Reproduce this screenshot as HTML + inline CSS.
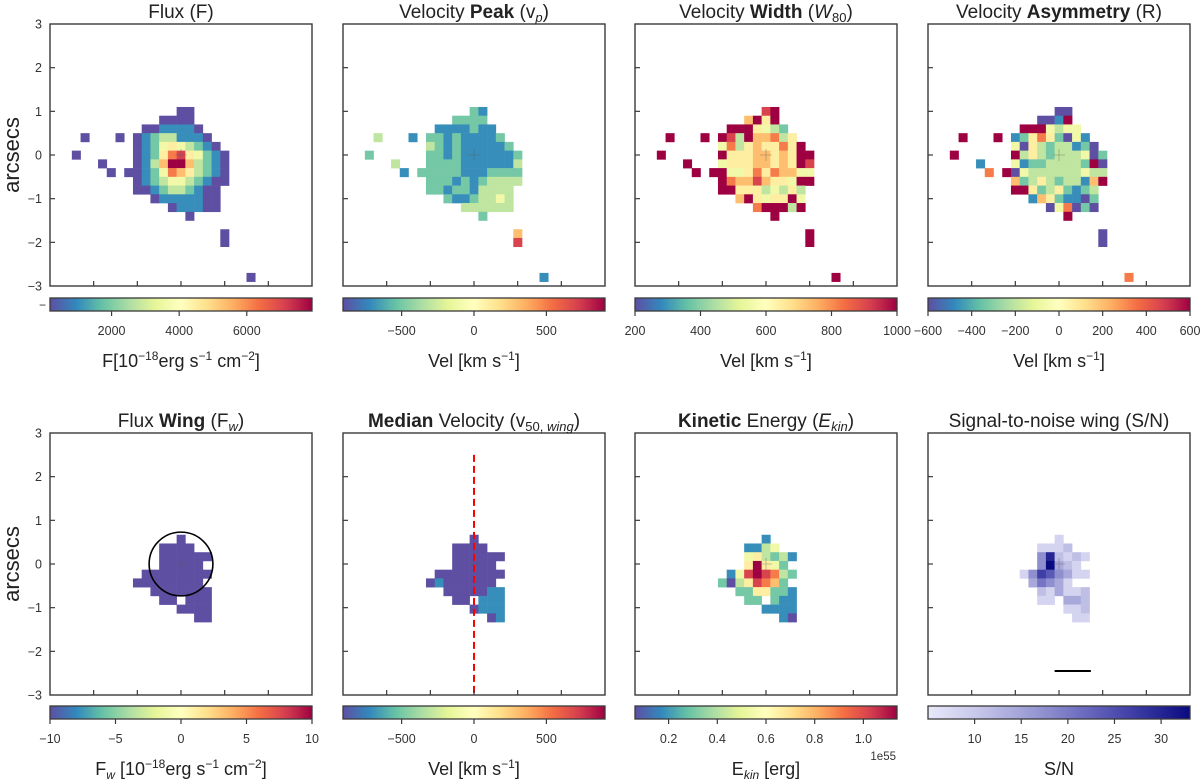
<!DOCTYPE html>
<html><head><meta charset="utf-8"><title>Outflow maps</title>
<style>
html,body{margin:0;padding:0;background:#fff;}
svg{display:block;font-family:"Liberation Sans",Arial,sans-serif;}
</style></head>
<body>
<svg id="fig" width="1200" height="781" viewBox="0 0 1200 781" xmlns="http://www.w3.org/2000/svg">
<defs id="defs"></defs>
<g id="root"></g>
</svg>
<script>
// ---------- data ----------
const fluxMap = [
"............00.......",
"..........0000.......",
"........0011110......",
".0...0.012331110.....",
".......0124543210....",
"0......01257854210...",
"...0...01369963210...",
"....0.001247653210...",
".......01234432100...",
".......0012332100....",
".........01111100....",
"...........011100....",
".............0.......",
".....................",
".................0...",
".................0...",
".....................",
".....................",
".....................",
"....................0"];
const vpeakMap = [
"............21.......",
"..........2222.......",
"........1111211......",
".3...1.221211112.....",
".......3212111112....",
"2......22121111112...",
"...3...22221111113...",
"....1.222221112222...",
".......22212123333...",
".......2212213333....",
".........21123343....",
"...........333333....",
".............2.......",
".....................",
".................6...",
".................8...",
".....................",
".....................",
".....................",
"....................1"];
const widthMap = [
"............89.......",
"..........6959.......",
"........9995432......",
".9...9.983966735.....",
".......4735655759....",
"9......95556656599...",
"...9...45556656598...",
"....9.994457576644...",
".......97668655499...",
".......9955534353....",
".........69545594....",
"...........799939....",
".............9.......",
".....................",
".................9...",
".................9...",
".....................",
".....................",
".....................",
"....................9"];
const asymMap = [
"............00.......",
"..........0019.......",
"........9994344......",
".9...9.125752041.....",
".......4053233120....",
"9......93532333402...",
"...1...41223333290...",
"....7.904333333433...",
".......62353233169...",
".......9952352123....",
".........16521102....",
"...........047020....",
".............9.......",
".....................",
".................0...",
".................0...",
".....................",
".....................",
".....................",
"....................7"];
const fwingMap = [
".....0...",
"...0000..",
"...000000",
"...00000.",
".00000000",
"00000000.",
"..0000000",
"...00.000",
".....0000",
".......00"];
const medianMap = [
".....0...",
"...0000..",
"...000000",
"...00000.",
".00000000",
"01000000.",
"..0000011",
"...00.111",
".....0111",
".......01"];
const ekinMap = [
".....1...",
"...1134..",
"...453231",
"...59542.",
".14898732",
"20358762.",
"..2255221",
"...22.211",
".....1111",
".......10"];
const snMap = [
".....1...",
"...1112..",
"...482121",
"...49321.",
".14764311",
"..35431..",
"...213112",
"...11.332",
"......112",
".......11"];

const fluxTicks = [2000, 4000, 6000];
const fluxRange = [178, 7930];
const vpeakTicks = [-500, 0, 500];
const vpeakRange = [-905, 905];
const widthTicks = [200, 400, 600, 800, 1000];
const widthRange = [200, 1000];
const asymTicks = [-600, -400, -200, 0, 200, 400, 600];
const asymRange = [-600, 600];
const fwTicks = [-10, -5, 0, 5, 10];
const fwRange = [-10, 10];
const medTicks = [-500, 0, 500];
const medRange = [-905, 905];
const ekinTicks = [0.2, 0.4, 0.6, 0.8, 1.0];
const ekinTickLabels = ["0.2", "0.4", "0.6", "0.8", "1.0"];
const ekinRange = [0.062, 1.138];
const snTicks = [10, 15, 20, 25, 30];
const snRange = [5.0, 33.1];
const axisTicks = [-3, -2, -1, 0, 1, 2, 3];

// ---------- colormaps ----------
const spectralStops = ["#5e4fa2","#3288bd","#66c2a5","#abdda4","#e6f598","#ffffbf","#fee08b","#fdae61","#f46d43","#d53e4f","#9e0142"];
const purpleStops = ["#e8e8fa","#c4c4e8","#9a9ad4","#6a6abf","#3a3aa3","#0a0a80"];
function hex2rgb(h){return [parseInt(h.substr(1,2),16),parseInt(h.substr(3,2),16),parseInt(h.substr(5,2),16)];}
function cmap(stops,f){
  f=Math.max(0,Math.min(1,f));
  const n=stops.length-1, p=f*n, i=Math.min(n-1,Math.floor(p)), t=p-i;
  const a=hex2rgb(stops[i]), b=hex2rgb(stops[i+1]);
  return "rgb("+a.map((v,k)=>Math.round(v+(b[k]-v)*t)).join(",")+")";
}

// ---------- layout ----------
const NS="http://www.w3.org/2000/svg";
const root=document.getElementById("root");
const defs=document.getElementById("defs");
const lefts=[50,343,635,928];
const SIZE=262;
const rowTop=[24,433];
const cbarTop=[298,706];
const S=SIZE/6;
function el(tag,attrs,parent){const e=document.createElementNS(NS,tag);for(const k in attrs)e.setAttribute(k,attrs[k]);(parent||root).appendChild(e);return e;}

function makeGradient(id,stops){
  const g=el("linearGradient",{id:id,x1:"0",y1:"0",x2:"1",y2:"0"},defs);
  for(let i=0;i<=40;i++){el("stop",{offset:(i/40),"stop-color":cmap(stops,i/40)},g);}
}
makeGradient("gSpec",spectralStops);
makeGradient("gPurp",purpleStops);

function panel(opts){
  const L=lefts[opts.col], T=rowTop[opts.row];
  const g=el("g",{});
  
  
  const xs=v=>L+(v+3)*S, ys=v=>T+(3-v)*S;
  const cg=el("g",{},g);
  
  
  opts.map.forEach((row,ri)=>{
    const r=opts.rTop-ri;
    for(let ci=0;ci<row.length;ci++){
      const ch=row[ci]; if(ch===".")continue;
      const c=opts.cLeft+ci;
      const cx=c*0.2, cy=r*0.2+opts.oy;
      const rc=el("rect",{x:xs(cx-0.1),y:ys(cy+0.1),width:0.2*S+0.3,height:0.2*S+0.3,fill:cmap(opts.stops,parseInt(ch)/9)},cg);
      
      
    }
  });
  el("path",{d:`M${xs(0)-6},${ys(0)}h12M${xs(0)},${ys(0)-6}v12`,stroke:"rgba(90,90,90,0.45)","stroke-width":0.8,fill:"none"},g);
  if(opts.extra)opts.extra(g,xs,ys);
  const fr=el("rect",{x:L,y:T,width:SIZE,height:SIZE,fill:"none",stroke:"#3a3a3a","stroke-width":1.4},g);
  
  
  axisTicks.forEach(v=>{
    if(v>-3&&v<3){
      el("line",{x1:xs(v),x2:xs(v),y1:T+SIZE,y2:T+SIZE-5,stroke:"#3a3a3a","stroke-width":1.2},g);
      el("line",{x1:L,x2:L+5,y1:ys(v),y2:ys(v),stroke:"#3a3a3a","stroke-width":1.2},g);
    }
    if(opts.col===0){
      const t=el("text",{x:L-8,y:ys(v)+4.5,"text-anchor":"end","font-size":12.5,fill:"#333"},g);
      t.textContent=(v<0?"\u2212"+(-v):""+v);
      
      
    }
  });
  const tt=el("text",{x:L+SIZE/2,y:T-6,"text-anchor":"middle","font-size":19,fill:"#222"},g);
  tt.innerHTML=opts.title;
  
  
  const cy=cbarTop[opts.row];
  const cb=el("rect",{x:L,y:cy,width:SIZE,height:13,fill:opts.stops===purpleStops?"url(#gPurp)":"url(#gSpec)",stroke:"#3a3a3a","stroke-width":1.3},g);
  
  
  const cx=v=>L+(v-opts.range[0])/(opts.range[1]-opts.range[0])*SIZE;
  opts.ticks.forEach((v,i)=>{
    el("line",{x1:cx(v),x2:cx(v),y1:cy+13,y2:cy+18,stroke:"#3a3a3a","stroke-width":1.2},g);
    const t=el("text",{x:cx(v),y:cy+37,"text-anchor":"middle","font-size":12.5,fill:"#333"},g);
    const lab=opts.tickLabels?opts.tickLabels[i]:String(v);
    t.textContent=lab.replace("-","\u2212");
    
    
  });
  const cl=el("text",{x:L+SIZE/2,y:cy+69,"text-anchor":"middle","font-size":18,fill:"#222"},g);
  cl.innerHTML=opts.cbarLabel;
  
  
}

const fluxUnit='[10<tspan font-size="12" dy="-7">\u221218</tspan><tspan dy="7">erg s</tspan><tspan font-size="12" dy="-7">\u22121</tspan><tspan dy="7"> cm</tspan><tspan font-size="12" dy="-7">\u22122</tspan><tspan dy="7">]</tspan>';
const velUnit='Vel [km s<tspan font-size="12" dy="-7">\u22121</tspan><tspan dy="7">]</tspan>';

panel({row:0,col:0,name:"flux",map:fluxMap,rTop:5,cLeft:-12,oy:0,stops:spectralStops,range:fluxRange,ticks:fluxTicks,
  title:'Flux (F)',cbarLabel:'F'+fluxUnit});
panel({row:0,col:1,name:"velocity-peak",map:vpeakMap,rTop:5,cLeft:-12,oy:0,stops:spectralStops,range:vpeakRange,ticks:vpeakTicks,
  title:'Velocity <tspan font-weight="bold">Peak</tspan> (v<tspan font-size="13" dy="4" font-style="italic">p</tspan><tspan dy="-4">)</tspan>',cbarLabel:velUnit});
panel({row:0,col:2,name:"velocity-width",map:widthMap,rTop:5,cLeft:-12,oy:0,stops:spectralStops,range:widthRange,ticks:widthTicks,
  title:'Velocity <tspan font-weight="bold">Width</tspan> (<tspan font-style="italic">W</tspan><tspan font-size="13" dy="4">80</tspan><tspan dy="-4">)</tspan>',cbarLabel:velUnit});
panel({row:0,col:3,name:"velocity-asymmetry",map:asymMap,rTop:5,cLeft:-12,oy:0,stops:spectralStops,range:asymRange,ticks:asymTicks,
  title:'Velocity <tspan font-weight="bold">Asymmetry</tspan> (R)',cbarLabel:velUnit});
panel({row:1,col:0,name:"flux-wing",map:fwingMap,rTop:3,cLeft:-5,oy:-0.03,stops:spectralStops,range:fwRange,ticks:fwTicks,
  title:'Flux <tspan font-weight="bold">Wing</tspan> (F<tspan font-size="13" dy="4" font-style="italic">w</tspan><tspan dy="-4">)</tspan>',
  cbarLabel:'F<tspan font-size="12" dy="4" font-style="italic">w</tspan><tspan dy="-4"> </tspan>'+fluxUnit,
  extra:(g,xs,ys)=>{const c=el("circle",{cx:xs(0),cy:ys(0),r:0.73*S,fill:"none",stroke:"#000","stroke-width":1.6},g);
    
    }});
panel({row:1,col:1,name:"median-velocity",map:medianMap,rTop:3,cLeft:-5,oy:-0.03,stops:spectralStops,range:medRange,ticks:medTicks,
  title:'<tspan font-weight="bold">Median</tspan> Velocity (v<tspan font-size="13" dy="4">50, <tspan font-style="italic">wing</tspan></tspan><tspan dy="-4">)</tspan>',cbarLabel:velUnit,
  extra:(g,xs,ys)=>{const l=el("line",{x1:xs(0),x2:xs(0),y1:ys(2.5),y2:ys(-3),stroke:"#ff0000","stroke-width":2,"stroke-dasharray":"7,4"},g);
    
    }});
panel({row:1,col:2,name:"kinetic-energy",map:ekinMap,rTop:3,cLeft:-5,oy:-0.03,stops:spectralStops,range:ekinRange,ticks:ekinTicks,tickLabels:ekinTickLabels,
  title:'<tspan font-weight="bold">Kinetic</tspan> Energy (<tspan font-style="italic">E</tspan><tspan font-size="13" dy="4" font-style="italic">kin</tspan><tspan dy="-4">)</tspan>',
  cbarLabel:'E<tspan font-size="12" dy="4" font-style="italic">kin</tspan><tspan dy="-4"> [erg]</tspan>'});
panel({row:1,col:3,name:"signal-to-noise",map:snMap,rTop:3,cLeft:-5,oy:-0.03,stops:purpleStops,range:snRange,ticks:snTicks,
  title:'Signal-to-noise wing (S/N)',cbarLabel:'S/N',
  extra:(g,xs,ys)=>{const l=el("line",{x1:xs(-0.1),x2:xs(0.73),y1:ys(-2.45),y2:ys(-2.45),stroke:"#000","stroke-width":2},g);
    
    }});

const off=el("text",{x:896,y:760,"text-anchor":"end","font-size":11.5,fill:"#333"});
off.textContent="1e55";


const stray=el("text",{x:46,y:309,"text-anchor":"end","font-size":12,fill:"#333"});
stray.textContent="\u2212";


[155,564].forEach(cy=>{
  const t=el("text",{x:0,y:0,"text-anchor":"middle","font-size":22,fill:"#222",transform:`translate(19,${cy}) rotate(-90)`});
  t.textContent="arcsecs";
  
  
});
</script>
</body></html>
